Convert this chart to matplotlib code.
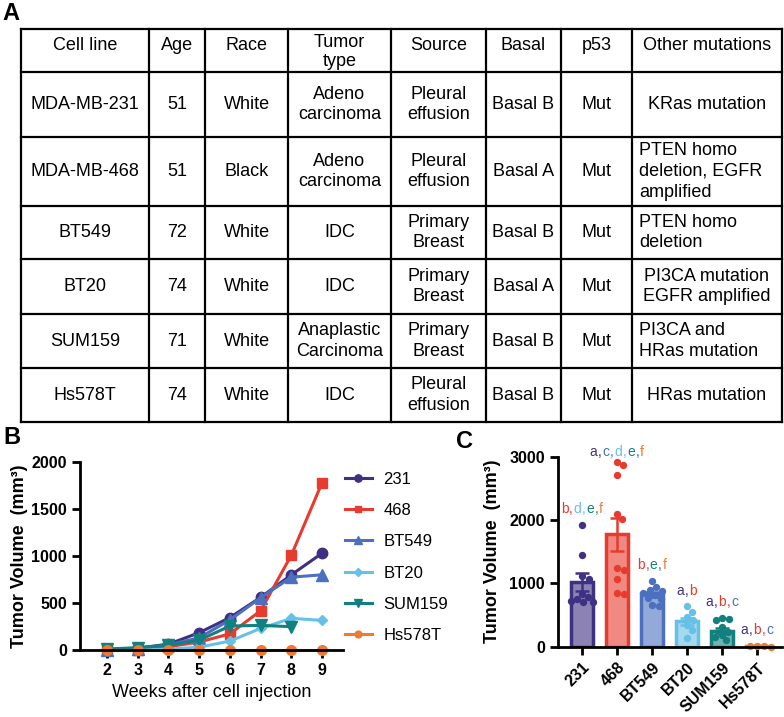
import matplotlib
matplotlib.use('Agg')
import matplotlib.pyplot as plt
import numpy as np
from matplotlib import transforms
from matplotlib.colors import to_rgba

plt.rcParams['font.family'] = ['Liberation Sans', 'DejaVu Sans']

# ---------------- Panel A: table data ----------------
headers = ["Cell line", "Age", "Race", "Tumor\ntype", "Source", "Basal", "p53", "Other mutations"]
cell_lines = ["MDA-MB-231", "MDA-MB-468", "BT549", "BT20", "SUM159", "Hs578T"]
ages = ["51", "51", "72", "74", "71", "74"]
races = ["White", "Black", "White", "White", "White", "White"]
tumor_types = ["Adeno\ncarcinoma", "Adeno\ncarcinoma", "IDC", "IDC", "Anaplastic\nCarcinoma", "IDC"]
sources = ["Pleural\neffusion", "Pleural\neffusion", "Primary\nBreast", "Primary\nBreast",
           "Primary\nBreast", "Pleural\neffusion"]
basal = ["Basal B", "Basal A", "Basal B", "Basal A", "Basal B", "Basal B"]
p53 = ["Mut", "Mut", "Mut", "Mut", "Mut", "Mut"]
other_mut = ["KRas mutation", "PTEN homo\ndeletion, EGFR\namplified", "PTEN homo\ndeletion",
             "PI3CA mutation\nEGFR amplified", "PI3CA and\nHRas mutation", "HRas mutation"]

# ---------------- Panel B: growth curves ----------------
weeks = [2, 3, 4, 5, 6, 7, 8, 9]
weeks_sum159 = [2, 3, 4, 5, 6, 7, 8]
vol_231 = [5, 20, 62, 184, 345, 560, 800, 1030]
vol_468 = [0, 5, 35, 85, 172, 418, 1010, 1780]
vol_bt549 = [0, 15, 55, 130, 320, 556, 775, 800]
vol_bt20 = [0, 0, 10, 30, 95, 230, 337, 315]
vol_sum159 = [10, 25, 50, 105, 255, 262, 248]
vol_hs578t = [0, 0, 0, 0, 0, 0, 0, 0]

# ---------------- Panel C: final tumor volume ----------------
groups = ["231", "468", "BT549", "BT20", "SUM159", "Hs578T"]
means = [1025, 1775, 825, 400, 255, 10]
sems = [145, 265, 45, 55, 45, 0]
dots_231 = [1918, 1453, 1110, 1070, 840, 780, 760, 720, 700, 700]
dots_468 = [2922, 2864, 2705, 2103, 2024, 1240, 1210, 1068, 846, 830]
dots_bt549 = [1040, 950, 900, 880, 850, 820, 770, 760, 660, 640]
dots_bt20 = [635, 555, 475, 420, 345, 265, 140]
dots_sum159 = [455, 445, 420, 305, 240, 185, 155, 100]
dots_hs578t = [12, 8, 4, 0]
sig_letters = [["b", "d", "e", "f"], ["a", "c", "d", "e", "f"], ["b", "e", "f"],
               ["a", "b"], ["a", "b", "c"], ["a", "b", "c"]]
letter_keys = ["a", "b", "c", "d", "e", "f"]

colors = ['#3f3182', '#e63b2e', '#4c70c0', '#67c0e6', '#12807f', '#f07a30']
letter_color = dict(zip(letter_keys, colors))

W, H = 784, 717
fig = plt.figure(figsize=(W / 100, H / 100), dpi=100)
fig.patch.set_facecolor('white')

# ---------------- table ----------------
axT = fig.add_axes([0, 0, 1, 1], zorder=-1)
axT.set_xlim(0, W)
axT.set_ylim(H, 0)
axT.axis('off')

col_edges = [21, 149, 205, 288, 391, 486, 561, 632, 782]
row_edges = [29, 72, 137, 206, 259, 314, 368, 422]
lw_tab = 1.6
for x in col_edges:
    axT.plot([x, x], [row_edges[0], row_edges[-1]], color='black', lw=lw_tab, solid_capstyle='projecting')
for y in row_edges:
    axT.plot([col_edges[0], col_edges[-1]], [y, y], color='black', lw=lw_tab, solid_capstyle='projecting')

tfs = 13
lsp = 1.3
for j, h in enumerate(headers):
    cx = (col_edges[j] + col_edges[j + 1]) / 2
    cy = 46 if '\n' not in h else 52
    axT.text(cx, cy, h, ha='center', va='center', fontsize=tfs, linespacing=1.15)

columns = [cell_lines, ages, races, tumor_types, sources, basal, p53, other_mut]
left_aligned_other = [1, 2, 4]
for i in range(len(cell_lines)):
    cy = (row_edges[i + 1] + row_edges[i + 2]) / 2
    for j, col in enumerate(columns):
        txt = col[i]
        if j == 7 and i in left_aligned_other:
            axT.text(col_edges[j] + 7, cy, txt, ha='left', va='center', fontsize=tfs,
                     linespacing=lsp, multialignment='left')
        else:
            cx = (col_edges[j] + col_edges[j + 1]) / 2
            axT.text(cx, cy, txt, ha='center', va='center', fontsize=tfs, linespacing=lsp)

# panel letters
axT.text(2, 14, "A", fontsize=17, fontweight='bold', ha='left', va='center')
axT.text(3, 438, "B", fontsize=17, fontweight='bold', ha='left', va='center')
axT.text(456, 441, "C", fontsize=17, fontweight='bold', ha='left', va='center')

# ---------------- Panel B ----------------
axB = fig.add_axes([80 / W, (H - 650) / H, 263 / W, 188 / H])
series = [
    (weeks, vol_231, 'o', 7.5, "231"),
    (weeks, vol_468, 's', 7, "468"),
    (weeks, vol_bt549, '^', 8, "BT549"),
    (weeks, vol_bt20, 'D', 5.5, "BT20"),
    (weeks_sum159, vol_sum159, 'v', 8, "SUM159"),
    (weeks, vol_hs578t, 'o', 7, "Hs578T"),
]
for (xs, ys, mk, ms, lab), c in zip(series, colors):
    axB.plot(xs, ys, color=c, marker=mk, markersize=ms, lw=2.2, label=lab, clip_on=False)
axB.set_xlim(1.12, 9.68)
axB.set_ylim(0, 2000)
axB.set_xticks(weeks)
axB.set_yticks([0, 500, 1000, 1500, 2000])
for s in ['top', 'right']:
    axB.spines[s].set_visible(False)
for s in ['left', 'bottom']:
    axB.spines[s].set_linewidth(2)
axB.tick_params(direction='out', length=6, width=2, labelsize=11.5)
for lab in axB.get_xticklabels() + axB.get_yticklabels():
    lab.set_fontweight('bold')
axB.set_xlabel("Weeks after cell injection", fontsize=13, labelpad=4)
axB.set_ylabel("Tumor Volume  (mm³)", fontsize=13, fontweight='bold', labelpad=2)
leg = axB.legend(loc='upper left', bbox_to_anchor=(345 / W, 1 - 471.5 / H),
                 bbox_transform=fig.transFigure, frameon=False, fontsize=12,
                 markerscale=0.7, handlelength=1.6, handletextpad=0.7,
                 labelspacing=0.98, borderpad=0, borderaxespad=0)

# ---------------- Panel C ----------------
axC = fig.add_axes([558 / W, (H - 646.7) / H, (782 - 558) / W, 190 / H])
xpos = np.arange(len(groups))
face = [to_rgba(c, 0.6) for c in colors[:5]] + [to_rgba(colors[5], 1.0)]
axC.bar(xpos, means, width=0.64, color=face, edgecolor=colors, linewidth=2.5, zorder=2)
for x, m, s, c in zip(xpos, means, sems, colors):
    if s > 0:
        axC.errorbar([x], [m], yerr=[s], fmt='none', ecolor=c, elinewidth=1.8,
                     capsize=5, capthick=1.8, zorder=3)

all_dots = [dots_231, dots_468, dots_bt549, dots_bt20, dots_sum159, dots_hs578t]
ax_w_px = (782 - 558)
ax_h_px = 190.0
xr = 5.71 - (-0.69)
px_per_x = ax_w_px / xr
px_per_y = ax_h_px / 3000.0
dot_d = 6.8  # px


def swarm_offsets(vals):
    order = np.argsort(vals)[::-1]
    placed = []
    offs = np.zeros(len(vals))
    cands = [0.0]
    for k in range(1, 60):
        cands += [k * 0.5, -k * 0.5]
    for idx in order:
        yp = vals[idx] * px_per_y
        for dx in cands:
            ok = True
            for (px, py) in placed:
                if (px - dx) ** 2 + (py - yp) ** 2 < dot_d ** 2:
                    ok = False
                    break
            if ok:
                offs[idx] = dx
                placed.append((dx, yp))
                break
    return offs / px_per_x


for x, vals, c in zip(xpos, all_dots, colors):
    vals = np.asarray(vals, dtype=float)
    offs = swarm_offsets(vals)
    axC.scatter(x + offs, vals, s=28, color=c, zorder=4, clip_on=False, linewidths=0)

axC.set_xlim(-0.69, 5.71)
axC.set_ylim(0, 3000)
axC.set_yticks([0, 1000, 2000, 3000])
axC.set_xticks(xpos)
axC.set_xticklabels(groups, rotation=45, ha='right', rotation_mode='anchor')
for s in ['top', 'right']:
    axC.spines[s].set_visible(False)
for s in ['left', 'bottom']:
    axC.spines[s].set_linewidth(2)
    axC.spines[s].set_zorder(5)
axC.tick_params(direction='out', length=6, width=2, labelsize=11.5)
for lab in axC.get_xticklabels() + axC.get_yticklabels():
    lab.set_fontweight('bold')
axC.set_ylabel("Tumor Volume  (mm³)", fontsize=13, fontweight='bold', labelpad=6)

renderer = fig.canvas.get_renderer()


def colored_label(ax, x, y, letters, fs=10):
    pieces = []
    for i, L in enumerate(letters):
        pieces.append((L, letter_color[L]))
        if i < len(letters) - 1:
            pieces.append((",", letter_color[L]))
    texts, widths = [], []
    for s, c in pieces:
        t = ax.text(x, y, s, color=c, fontsize=fs, ha='left', va='center', clip_on=False)
        w = t.get_window_extent(renderer=renderer).width + 0.6
        texts.append(t)
        widths.append(w)
    off = -sum(widths) / 2
    for t, w in zip(texts, widths):
        t.set_transform(transforms.offset_copy(ax.transData, fig=fig, x=off * 72 / fig.dpi,
                                               y=0, units='points'))
        off += w


for x, vals, lets in zip(xpos, all_dots, sig_letters):
    ly = min(max(vals) + 250, 3075)
    colored_label(axC, x, ly, lets)

fig.savefig("out.png", dpi=100, facecolor='white')
